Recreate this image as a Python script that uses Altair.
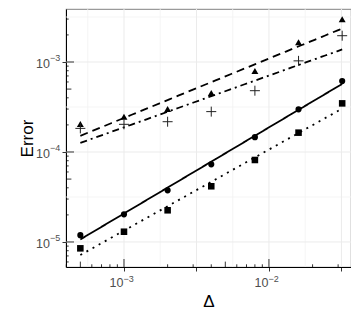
import altair as alt
import pandas as pd

# ---- data ----
delta = [0.0005, 0.001, 0.002, 0.004, 0.008, 0.016, 0.032]
err_circle = [1.19e-5, 2.03e-5, 3.75e-5, 7.3e-5, 1.46e-4, 2.98e-4, 6.15e-4]
err_square = [8.5e-6, 1.30e-5, 2.25e-5, 4.16e-5, 8.15e-5, 1.64e-4, 3.47e-4]
err_triangle = [2.05e-4, 2.47e-4, 3.0e-4, 4.53e-4, 7.94e-4, 1.66e-3, 2.98e-3]
err_plus = [1.83e-4, 2.03e-4, 2.17e-4, 2.81e-4, 4.8e-4, 1.03e-3, 1.96e-3]
series_names = ["circle", "square", "triangle", "plus"]

# axis ticks / labels (labels written as 10 with a superscript exponent)
x_tick_values = [1e-3, 10 ** -2.5, 1e-2, 10 ** -1.5]
x_label_values = [1e-3, 1e-2]
x_label_exponents = ["\u22123", "\u22122"]
y_tick_values = [1e-5, 1e-4, 1e-3]
y_label_values = [1e-5, 1e-4, 1e-3]
y_label_exponents = ["\u22125", "\u22124", "\u22123"]

x_grid_major = [10 ** -3, 10 ** -2.5, 10 ** -2, 10 ** -1.5]
x_grid_minor = [10 ** -3.25, 10 ** -2.75, 10 ** -2.25, 10 ** -1.75]
y_grid_major = [1e-5, 1e-4, 1e-3]
y_grid_minor = [10 ** -4.5, 10 ** -3.5, 10 ** -2.5]

x_domain = [10 ** -3.4, 10 ** -1.434]
y_domain = [10 ** -5.278, 10 ** -2.411]

W, H = 285, 258
FONT = "Liberation Sans"
LABEL_COLOR = "#4d4d4d"

# ---- tables ----
rows = []
for name, vals in zip(series_names, [err_circle, err_square, err_triangle, err_plus]):
    for d, e in zip(delta, vals):
        rows.append({"delta": d, "error": e, "series": name})
df = pd.DataFrame(rows)


def logticks(lo, hi):
    out = []
    for k in range(-7, 1):
        for m in range(1, 10):
            v = m * 10.0 ** k
            if lo < v < hi:
                kind = "long" if m == 1 else ("mid" if m == 5 else "short")
                out.append({"v": v, "kind": kind})
    return pd.DataFrame(out)


xs = alt.Scale(type="log", domain=x_domain, nice=False, zero=False)
ys = alt.Scale(type="log", domain=y_domain, nice=False, zero=False)

x_enc = alt.X("delta:Q", scale=xs, title="Δ",
              axis=alt.Axis(values=x_tick_values, labels=False, grid=False, tickSize=4,
                            titleX=W / 2, titleY=39, titleBaseline="alphabetic", titleAlign="center"))
y_enc = alt.Y("error:Q", scale=ys, title="Error",
              axis=alt.Axis(values=y_tick_values, labels=False, grid=False, tickSize=4,
                            titleX=-34, titleY=H / 2, titleBaseline="alphabetic", titleAlign="center",
                            titleAngle=270))

# gridlines
gx_major = alt.Chart(pd.DataFrame({"delta": x_grid_major})).mark_rule(color="#ebebeb", strokeWidth=1).encode(
    x=alt.X("delta:Q", scale=xs))
gx_minor = alt.Chart(pd.DataFrame({"delta": x_grid_minor})).mark_rule(color="#f2f2f2", strokeWidth=0.8).encode(
    x=alt.X("delta:Q", scale=xs))
gy_major = alt.Chart(pd.DataFrame({"error": y_grid_major})).mark_rule(color="#ebebeb", strokeWidth=1).encode(
    y=alt.Y("error:Q", scale=ys))
gy_minor = alt.Chart(pd.DataFrame({"error": y_grid_minor})).mark_rule(color="#f2f2f2", strokeWidth=0.8).encode(
    y=alt.Y("error:Q", scale=ys))

# log ticks (annotation_logticks style)
tick_len = {"short": 2.7, "mid": 5.4, "long": 8.0}
xt = logticks(*x_domain).rename(columns={"v": "delta"})
yt = logticks(*y_domain).rename(columns={"v": "error"})
tick_layers = []
for kind, ln in tick_len.items():
    tick_layers.append(
        alt.Chart(xt).transform_filter(alt.datum.kind == kind).mark_rule(color="black", strokeWidth=0.8).encode(
            x=alt.X("delta:Q", scale=xs), y=alt.value(H), y2=alt.value(H - ln)))
    tick_layers.append(
        alt.Chart(yt).transform_filter(alt.datum.kind == kind).mark_rule(color="black", strokeWidth=0.8).encode(
            y=alt.Y("error:Q", scale=ys), x=alt.value(0), x2=alt.value(ln)))

# tick labels as text: "10" plus a raised, smaller exponent
xl = pd.DataFrame({"delta": x_label_values, "exp": x_label_exponents})
yl = pd.DataFrame({"error": y_label_values, "exp": y_label_exponents})
label_layers = [
    alt.Chart(xl).mark_text(text="10", font=FONT, fontSize=12.5, color=LABEL_COLOR, align="right",
                            baseline="alphabetic", dx=-0.5).encode(
        x=alt.X("delta:Q", scale=xs), y=alt.value(H + 20)),
    alt.Chart(xl).mark_text(font=FONT, fontSize=9, color=LABEL_COLOR, align="left",
                            baseline="alphabetic", dx=-0.5).encode(
        x=alt.X("delta:Q", scale=xs), y=alt.value(H + 15), text="exp:N"),
    alt.Chart(yl).mark_text(text="10", font=FONT, fontSize=12.5, color=LABEL_COLOR, align="right",
                            baseline="alphabetic", dy=6).encode(
        y=alt.Y("error:Q", scale=ys), x=alt.value(-16)),
    alt.Chart(yl).mark_text(font=FONT, fontSize=9, color=LABEL_COLOR, align="left",
                            baseline="alphabetic", dy=-1).encode(
        y=alt.Y("error:Q", scale=ys), x=alt.value(-16), text="exp:N"),
]

base = alt.Chart(df)

lines = base.transform_regression(
    "delta", "error", method="pow", groupby=["series"]
).mark_line(color="black", strokeWidth=1.8, strokeCap="butt").encode(
    x=x_enc, y=y_enc,
    strokeDash=alt.StrokeDash("series:N", legend=None,
                              scale=alt.Scale(domain=series_names,
                                              range=[[1, 0], [2, 5], [8, 5], [7, 4, 2, 4]])),
)

filled_pts = base.transform_filter(alt.datum.series != "plus").mark_point(
    filled=True, color="black", opacity=1).encode(
    x=x_enc, y=y_enc,
    shape=alt.Shape("series:N", legend=None,
                    scale=alt.Scale(domain=["circle", "square", "triangle"],
                                    range=["circle", "square", "triangle-up"])),
    size=alt.Size("series:N", legend=None,
                  scale=alt.Scale(domain=["circle", "square", "triangle"], range=[38, 48, 60])),
)

plus_pts = base.transform_filter(alt.datum.series == "plus").mark_point(
    shape="M-1,0L1,0M0,-1L0,1", filled=False, color="#222222", strokeWidth=1, size=100, opacity=1
).encode(x=x_enc, y=y_enc)

chart = alt.layer(
    gx_minor, gy_minor, gx_major, gy_major, *tick_layers, lines, filled_pts, plus_pts, *label_layers
).properties(
    width=W, height=H,
    autosize=alt.AutoSizeParams(type="none"),
    padding={"left": 58, "top": 1, "right": 0, "bottom": 44},
).configure_view(
    stroke="#9a9a9a", strokeWidth=1.2
).configure_axis(
    domainColor="black", domainWidth=1, tickColor="#333333", tickWidth=1,
    titleFont=FONT, titleFontSize=17, titleFontWeight="normal", titleColor="black",
)

chart.save("out.html", embed_options={"renderer": "svg", "actions": False})
